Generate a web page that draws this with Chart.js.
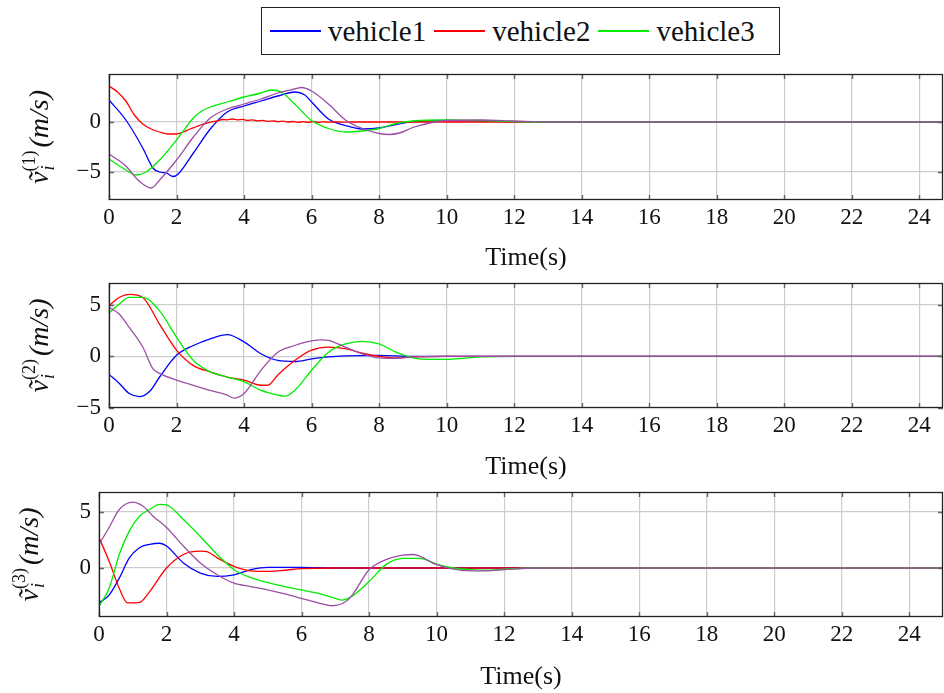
<!DOCTYPE html>
<html>
<head>
<meta charset="utf-8">
<script src="https://cdn.jsdelivr.net/npm/chart.js@4.4.1/dist/chart.umd.min.js"></script>
<style>
  body { margin: 0; background: #fff; width: 944px; height: 693px; position: relative; overflow: hidden; font-family: 'Liberation Serif', serif; }
  canvas { position: absolute; left: 0; }
  #legend { position: absolute; left: 261px; top: 7px; width: 519px; height: 48px; border: 1px solid #222; box-sizing: border-box;
            display: flex; align-items: center; font-size: 29px; color: #111; }
  #legend span.ln { display: inline-block; width: 51px; height: 2px; margin: 0 7px 0 8px; }
</style>
</head>
<body>
<div id="legend"></div>
<canvas id="p1" width="944" height="212" style="top:62px"></canvas>
<canvas id="p2" width="944" height="209" style="top:274px"></canvas>
<canvas id="p3" width="944" height="210" style="top:483px"></canvas>
<script>
// legend names and colours
const seriesNames = ['vehicle1', 'vehicle2', 'vehicle3', ''];
const seriesColors = ['#0000ff', '#ff0000', '#00ee00', '#9b4fa3'];

// tick labels
const xTicks = [0, 2, 4, 6, 8, 10, 12, 14, 16, 18, 20, 22, 24];
const yTicks1 = [-5, 0];
const yTicks2 = [-5, 0, 5];
const yTicks3 = [0, 5];
const yTitleSup = ['(1)', '(2)', '(3)'];

// panel 1 : v_i^(1)  [time, value]
const p1v1 = [[0,2.2],[0.5,0.2],[1,-2.6],[1.3,-4.6],[1.5,-5.0],[1.7,-5.1],[1.9,-5.45],[2.05,-5.2],[2.5,-3.1],[3,-0.7],[3.5,1.0],[4,1.6],[4.5,2.1],[5,2.6],[5.5,3.0],[5.8,2.7],[6,2.0],[6.5,0.3],[7,-0.35],[7.5,-0.7],[8,-0.6],[8.5,-0.25],[9,0.05],[10,0.15],[11,0.1],[12,0.02],[13,0],[24.7,0]];
const p1v2 = [[0,3.6],[0.25,3.0],[0.5,2.1],[0.75,0.7],[1,-0.2],[1.25,-0.7],[1.5,-1.0],[1.75,-1.2],[2,-1.2],[2.2,-1.0],[2.4,-0.7],[2.6,-0.45],[2.75,-0.25],[2.9,-0.12],[3.05,0.02],[3.2,0.1],[3.35,0.25],[3.5,0.22],[3.65,0.3],[3.8,0.22],[3.95,0.27],[4.1,0.16],[4.25,0.21],[4.4,0.11],[4.55,0.16],[4.7,0.07],[4.85,0.12],[5.0,0.03],[5.15,0.08],[5.3,0.0],[5.45,0.05],[5.6,-0.03],[5.75,0.03],[5.9,-0.03],[6.05,0.03],[6.2,-0.03],[6.35,0.02],[6.5,-0.02],[6.7,0.02],[6.9,-0.02],[7.2,0],[8,0],[24.7,0]];
const p1v3 = [[0,-3.7],[0.5,-4.8],[0.8,-5.3],[1.1,-5.0],[1.5,-3.8],[2,-1.8],[2.5,0.4],[2.75,1.1],[3,1.5],[3.5,2.0],[4,2.5],[4.5,2.9],[4.8,3.2],[5.1,3.0],[5.5,1.8],[6,0.15],[6.5,-0.65],[7,-1.0],[7.5,-0.9],[8,-0.65],[8.5,-0.15],[9,0.1],[10,0.2],[11,0.15],[12,0.05],[13,0],[24.7,0]];
const p1v4 = [[0,-3.2],[0.5,-4.4],[0.8,-5.6],[1,-6.2],[1.25,-6.6],[1.5,-5.8],[2,-3.8],[2.5,-1.5],[3,0.4],[3.5,1.3],[4,1.8],[4.5,2.3],[5,2.9],[5.5,3.3],[5.7,3.45],[6,3.1],[6.5,1.8],[7,0.2],[7.5,-0.65],[8,-1.15],[8.3,-1.25],[8.6,-1.1],[9,-0.55],[9.5,-0.1],[10,0.15],[11,0.2],[12,0.1],[13,0],[24.7,0]];

// panel 2 : v_i^(2)
const p2v1 = [[0,-1.75],[0.3,-2.6],[0.6,-3.6],[0.9,-3.9],[1.2,-3.4],[1.5,-2.0],[2,0.1],[2.5,1.05],[3,1.7],[3.5,2.1],[4,1.4],[4.5,0.25],[5,-0.4],[5.5,-0.5],[6,-0.25],[6.5,-0.05],[7,0.05],[8,0.1],[9,0],[24.7,0]];
const p2v2 = [[0,4.9],[0.3,5.7],[0.6,6.0],[1,5.7],[1.5,3.1],[2,0.6],[2.5,-0.9],[3,-1.5],[3.5,-2.0],[4,-2.3],[4.5,-2.8],[4.7,-2.8],[5,-1.8],[5.5,-0.4],[6,0.6],[6.5,0.9],[7,0.75],[7.5,0.3],[8,0],[8.5,-0.15],[9,-0.05],[10,0],[24.7,0]];
const p2v3 = [[0,4.2],[0.3,5.05],[0.6,5.7],[1,5.7],[1.5,4.4],[2,1.85],[2.5,-0.4],[3,-1.5],[3.5,-2.0],[4,-2.45],[4.5,-3.3],[5,-3.75],[5.2,-3.85],[5.5,-3.3],[6,-1.35],[6.5,0.4],[7,1.2],[7.5,1.45],[8,1.2],[8.5,0.4],[9,-0.15],[9.5,-0.3],[10,-0.3],[10.5,-0.2],[11,-0.05],[12,0],[24.7,0]];
const p2v4 = [[0,4.75],[0.3,4.1],[0.6,2.8],[1,0.9],[1.3,-1.2],[1.5,-1.65],[2,-2.3],[2.5,-2.8],[3,-3.3],[3.5,-3.75],[3.7,-4.05],[4,-3.6],[4.5,-1.35],[5,0.4],[5.5,1.05],[6,1.5],[6.3,1.6],[6.5,1.55],[7,0.9],[7.5,0.25],[8,-0.15],[8.5,-0.2],[9,-0.05],[10,0],[24.7,0]];

// panel 3 : v_i^(3)
const p3v1 = [[0,-3.1],[0.3,-2.4],[0.6,-0.9],[0.9,0.9],[1.2,1.8],[1.5,2.1],[1.8,2.2],[2,1.95],[2.5,0.45],[3,-0.45],[3.5,-0.75],[4,-0.6],[4.5,-0.15],[5,0.05],[6,0.05],[7,0],[25,0]];
const p3v2 = [[0,2.7],[0.3,0.6],[0.6,-1.8],[0.85,-3.1],[1.2,-3.05],[1.5,-2.1],[2,0],[2.5,1.2],[3,1.5],[3.2,1.45],[3.5,0.9],[4,0.15],[4.5,-0.25],[5,-0.3],[5.5,-0.2],[6,-0.05],[7,0],[25,0]];
const p3v3 = [[0,-3.4],[0.3,-1.8],[0.6,1.2],[0.9,3.3],[1.2,4.6],[1.5,5.2],[1.8,5.65],[2,5.6],[2.5,4.3],[3,2.8],[3.5,1.2],[4,-0.15],[4.5,-0.85],[5,-1.3],[5.5,-1.65],[6,-1.95],[6.5,-2.25],[7,-2.7],[7.2,-2.85],[7.5,-2.5],[8,-1.2],[8.5,0.3],[9,0.85],[9.5,0.85],[10,0.35],[10.5,0],[11,-0.15],[11.5,-0.2],[12,-0.1],[13,0],[25,0]];
const p3v4 = [[0,2.1],[0.3,3.6],[0.6,5.2],[1,5.85],[1.3,5.5],[1.6,4.6],[2,3.6],[2.5,1.95],[3,0.45],[3.5,-0.6],[4,-1.35],[4.5,-1.65],[5,-1.95],[5.5,-2.3],[6,-2.7],[6.5,-3.1],[6.9,-3.35],[7.3,-3.0],[7.5,-2.4],[8,-0.15],[8.5,0.75],[9,1.15],[9.3,1.2],[10,0.3],[10.5,-0.1],[11,-0.25],[11.5,-0.25],[12,-0.15],[13,0],[25,0]];

// html legend (3 entries, the 4th curve has none)
const legend = document.getElementById('legend');
seriesNames.forEach((n, i) => {
  if (!n) return;
  legend.insertAdjacentHTML('beforeend', '<span class="ln" style="background:' + seriesColors[i] + ';height:1.5px"></span><span>' + n + '</span>');
});

// frame + small inner tick marks like pgfplots
const framePlugin = {
  id: 'frame',
  afterDatasetsDraw(chart) {
    const { ctx, chartArea: a, scales } = chart;
    ctx.save();
    ctx.strokeStyle = '#666';
    ctx.lineWidth = 1.4;
    ctx.beginPath();
    scales.x.ticks.forEach(t => {
      const px = Math.round(scales.x.getPixelForValue(t.value)) + 0.5;
      ctx.moveTo(px, a.bottom); ctx.lineTo(px, a.bottom - 5);
      ctx.moveTo(px, a.top); ctx.lineTo(px, a.top + 5);
    });
    scales.y.ticks.forEach(t => {
      const py = Math.round(scales.y.getPixelForValue(t.value)) + 0.5;
      ctx.moveTo(a.left, py); ctx.lineTo(a.left + 5, py);
      ctx.moveTo(a.right, py); ctx.lineTo(a.right - 5, py);
    });
    ctx.stroke();
    ctx.strokeStyle = '#222';
    ctx.lineWidth = 1.3;
    ctx.strokeRect(Math.round(a.left) + 0.5, Math.round(a.top) + 0.5, Math.round(a.width) - 1, Math.round(a.height) - 1);
    ctx.restore();
  }
};

// rotated y title: v tilde, sub i, sup (k), (m/s)
const yTitlePlugin = {
  id: 'ytitle',
  afterDraw(chart, args, opts) {
    const { ctx, chartArea: a } = chart;
    const big = "italic 28px 'Liberation Serif'";
    const smallI = "italic 18px 'Liberation Serif'";
    const smallN = "18px 'Liberation Serif'";
    ctx.save();
    ctx.fillStyle = '#111';
    ctx.textBaseline = 'alphabetic';
    ctx.font = big; const wv = ctx.measureText('ṽ').width; const wm = ctx.measureText('(m/s)').width;
    ctx.font = smallI; const wi = ctx.measureText('i').width;
    ctx.font = smallN; const ws = ctx.measureText(opts.sup).width;
    const total = wv + Math.max(wi, ws) + 3 + wm;
    ctx.translate(opts.x, (a.top + a.bottom) / 2);
    ctx.rotate(-Math.PI / 2);
    const x0 = -total / 2, base = 9;
    ctx.font = big; ctx.fillText('ṽ', x0, base);
    ctx.font = smallI; ctx.fillText('i', x0 + wv + 1, base + 6);
    ctx.font = smallN; ctx.fillText(opts.sup, x0 + wv, base - 13);
    ctx.font = big; ctx.fillText('(m/s)', x0 + wv + Math.max(wi, ws) + 3, base);
    ctx.restore();
  }
};

const fmt = v => (v < 0 ? '\u2212' + Math.abs(v) : String(v));

function makePanel(id, series, yTicks, yMin, yMax, xMax, sup, yWidth, xHeight, padTop) {
  new Chart(document.getElementById(id), {
    type: 'line',
    data: {
      datasets: series.map((s, i) => ({
        label: seriesNames[i],
        data: s.map(p => ({ x: p[0], y: p[1] })),
        borderColor: seriesColors[i],
        borderWidth: 1.3,
        pointRadius: 0,
        fill: false,
        order: series.length - i, // later series drawn on top, as in the original
        cubicInterpolationMode: 'monotone'
      }))
    },
    options: {
      responsive: false,
      animation: false,
      layout: { padding: { top: padTop, right: 1, left: 0, bottom: 0 } },
      plugins: { legend: { display: false }, tooltip: { enabled: false }, ytitle: { sup: sup, x: yWidth - 70 } },
      scales: {
        x: {
          type: 'linear',
          min: 0,
          max: xMax,
          afterBuildTicks: s => { s.ticks = xTicks.map(v => ({ value: v })); },
          afterFit: s => { s.height = xHeight; s.paddingLeft = 0; s.paddingRight = 0; },
          grid: { color: '#cdcdcd', lineWidth: 1.2, drawTicks: false },
          border: { display: false },
          ticks: { color: '#111', font: { family: 'Liberation Serif', size: 23 }, padding: 4, maxRotation: 0 },
          title: { display: true, text: 'Time(s)', color: '#111', font: { family: 'Liberation Serif', size: 26 }, padding: { top: 8, bottom: 0 } }
        },
        y: {
          min: yMin,
          max: yMax,
          afterBuildTicks: s => { s.ticks = yTicks.map(v => ({ value: v })); },
          afterFit: s => { s.width = yWidth; s.paddingTop = 0; s.paddingBottom = 0; },
          grid: { color: '#cdcdcd', lineWidth: 1.2, drawTicks: false },
          border: { display: false },
          ticks: { color: '#111', font: { family: 'Liberation Serif', size: 23 }, padding: 8, callback: fmt },
          title: { display: false }
        }
      }
    },
    plugins: [framePlugin, yTitlePlugin]
  });
}

makePanel('p1', [p1v1, p1v2, p1v3, p1v4], yTicks1, -7.8, 4.8, 24.7, yTitleSup[0], 109, 74, 12);
makePanel('p2', [p2v1, p2v2, p2v3, p2v4], yTicks2, -5, 7.1, 24.7, yTitleSup[1], 109, 75, 9);
makePanel('p3', [p3v1, p3v2, p3v3, p3v4], yTicks3, -4.35, 6.75, 25, yTitleSup[2], 99, 76, 9);
</script>
</body>
</html>
